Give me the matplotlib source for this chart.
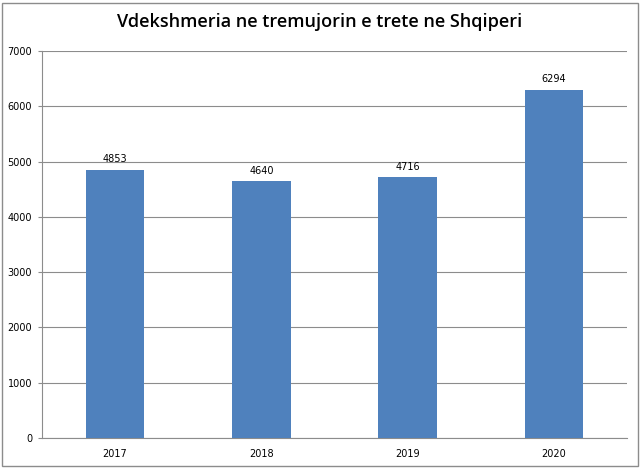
import matplotlib.pyplot as plt
from matplotlib.patches import Rectangle

years = ['2017', '2018', '2019', '2020']
deaths = [4853, 4640, 4716, 6294]

fig = plt.figure(figsize=(6.4, 4.68), dpi=100)
ax = fig.add_axes([0.0656, 0.0641, 0.9141, 0.8269])

x = range(len(years))
rects = ax.bar(x, deaths, width=0.4, color='#4F81BD', zorder=3)

for rect, val in zip(rects, deaths):
    ax.annotate(str(val),
                xy=(rect.get_x() + rect.get_width() / 2, rect.get_height()),
                xytext=(0, 4), textcoords='offset points',
                ha='center', va='bottom', fontsize=7, family='DejaVu Sans')

ax.set_xlim(-0.5, len(years) - 0.5)
ax.set_ylim(0, 7000)
ax.set_yticks(range(0, 7001, 1000))
ax.set_xticks(list(x))
ax.set_xticklabels(years)
ax.yaxis.grid(True, color='#8c8c8c', linewidth=0.8, zorder=0)
ax.tick_params(axis='both', labelsize=7, colors='black', length=3, width=0.8)
ax.tick_params(axis='x', length=0, pad=8)
ax.tick_params(axis='y', color='#8c8c8c', pad=4)
for s in ['top', 'right']:
    ax.spines[s].set_visible(False)
for s in ['left', 'bottom']:
    ax.spines[s].set_color('#8c8c8c')
    ax.spines[s].set_linewidth(0.8)

fig.text(0.5, 0.952, 'Vdekshmeria ne tremujorin e trete ne Shqiperi',
         ha='center', va='center', fontsize=13, family='Open Sans',
         fontweight='semibold')

fig.patches.append(Rectangle((0.003, 0.004), 0.994, 0.99, transform=fig.transFigure,
                             fill=False, edgecolor='#8c8c8c', linewidth=1))

fig.savefig('out.png', dpi=100)
